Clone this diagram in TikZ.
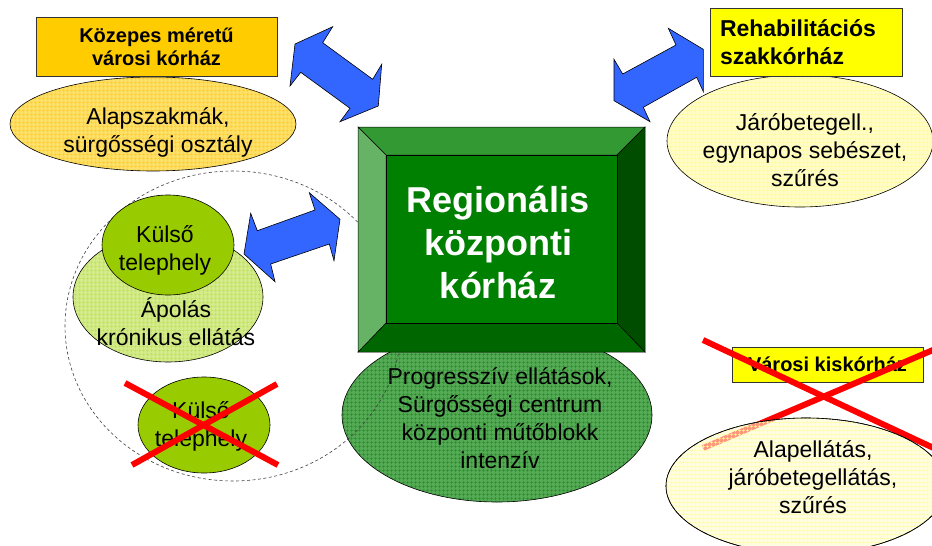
\documentclass[tikz,border=0pt]{standalone}
\usepackage{fontspec}
\setmainfont{Liberation Sans}
\usetikzlibrary{shapes.geometric,patterns.meta}

\definecolor{arrowblue}{HTML}{3366FF}
\definecolor{gold}{HTML}{FFCC00}
\definecolor{lemon}{HTML}{FFFF00}
\definecolor{xred}{HTML}{FF0000}
\definecolor{kulsogreen}{HTML}{99CC00}
\definecolor{faceg}{HTML}{008000}
\definecolor{bevtop}{HTML}{339933}
\definecolor{bevleft}{HTML}{66B366}
\definecolor{bevright}{HTML}{004D00}
\definecolor{bevbot}{HTML}{006600}
\definecolor{alapbase}{HTML}{FFE066}
\definecolor{alapgrid}{HTML}{FFCC33}
\definecolor{progbase}{HTML}{55AA55}
\definecolor{proggrid}{HTML}{2E8B2E}
\definecolor{apolbase}{HTML}{D4EB8A}
\definecolor{apolgrid}{HTML}{BFE060}

\tikzset{
  txt/.style={font=\fontsize{23}{28}\selectfont, align=center, inner sep=0pt},
  boldtxt/.style={font=\bfseries\fontsize{20}{23}\selectfont, align=center},
  labelbox/.style={rectangle, draw=black!80, line width=0.6pt, inner sep=0pt},
  blob/.style={ellipse, draw=black, line width=0.6pt, inner sep=0pt},
  gridfill/.style 2 args={preaction={fill=#1},
    preaction={pattern={Hatch[angle=0,distance=4pt,line width=0.7pt]}, pattern color=#2}},
  blockarrow/.style={fill=arrowblue, draw=black, line width=0.6pt, line join=miter},
  crossout/.style={draw=xred, line width=6pt},
  dashring/.style={draw=black!75, line width=0.6pt, dash pattern=on 3pt off 2.5pt},
  bevel/.style={draw=black, line width=0.5pt, line join=miter}
}

\begin{document}
\begin{tikzpicture}[x=1pt,y=-1pt]
\useasboundingbox (0,0) rectangle (932,546);
\clip (0,0) rectangle (932,546);
\fill[white] (0,0) rectangle (932,546);

% mid-size town hospital
\node[blob, gridfill={alapbase}{alapgrid}, minimum width=286pt, minimum height=94pt] (alap) at (153,124) {};
\node[txt] (alaptxt) at (158,132) {Alapszakmák,\\sürgősségi osztály};
\node[labelbox, fill=gold, minimum width=241pt, minimum height=59pt, boldtxt] (kozepes) at (156.5,46.5) {Közepes méretű\\városi kórház};

% rehabilitation hospital
\node[blob, gridfill={yellow!22}{yellow!45}, minimum width=266pt, minimum height=132pt] (jaro) at (800,141) {};
\node[txt] (jarotxt) at (805,150) {Járóbetegell.,\\egynapos sebészet,\\szűrés};
\node[labelbox, fill=lemon, minimum width=192pt, minimum height=68pt, text width=172pt, inner xsep=10pt, align=left, font=\bfseries\fontsize{23}{28}\selectfont] (rehab) at (806,42) {Rehabilitációs\\szakkórház};

% services of the regional centre
\node[blob, gridfill={progbase}{proggrid}, minimum width=310pt, minimum height=174pt] (progr) at (497,415) {};
\node[txt] (progrtxt) at (500,418) {\fontsize{23}{29}\selectfont Progresszív ellátások,\\Sürgősségi centrum\\központi műtőblokk\\intenzív};

% dashed ring around the attached units
\draw[dashring] (233,326) ellipse [x radius=168pt, y radius=155pt];

% bevelled regional centre block
\coordinate (o1) at (358,127); \coordinate (o2) at (645,127);
\coordinate (o3) at (645,352); \coordinate (o4) at (358,352);
\coordinate (i1) at (386,155); \coordinate (i2) at (617,155);
\coordinate (i3) at (617,323); \coordinate (i4) at (386,323);
\filldraw[bevel, fill=bevtop] (o1) -- (o2) -- (i2) -- (i1) -- cycle;
\filldraw[bevel, fill=bevright] (o2) -- (o3) -- (i3) -- (i2) -- cycle;
\filldraw[bevel, fill=bevbot] (o4) -- (o3) -- (i3) -- (i4) -- cycle;
\filldraw[bevel, fill=bevleft] (o1) -- (o4) -- (i4) -- (i1) -- cycle;
\node[rectangle, fill=faceg, draw=black, line width=0.5pt, minimum width=231pt, minimum height=168pt, inner sep=0pt] (face) at (501.5,239) {};
\node[font=\bfseries\fontsize{36}{43}\selectfont, text=white, align=center, inner sep=0pt] (regtxt) at (498,242) {Regionális\\központi\\kórház};

% nursing unit with outside site
\node[blob, gridfill={apolbase}{apolgrid}, minimum width=190pt, minimum height=130pt] (apolas) at (168,297) {};
\node[txt] (apolastxt) at (176,322) {Ápolás\\krónikus ellátás};
\node[blob, fill=kulsogreen, minimum width=132pt, minimum height=100pt] (kulso) at (168,245) {};
\node[txt] (kulsotxt) at (165,250) {Külső\\telephely};

% outside site that is dropped
\node[blob, fill=kulsogreen, minimum width=132pt, minimum height=96pt] (kulso2) at (204,425) {};
\node[txt] (kulso2txt) at (201,426) {Külső\\telephely};
\draw[crossout] (125,383) -- (278,465);
\draw[crossout] (132,465) -- (277,384);

% two-way links to the regional centre
\filldraw[blockarrow] (295,44) -- (332.7,26.7) -- (322.7,42.7) -- (372.7,79.3) -- (381.7,64.3)
  -- (378.3,106) -- (340,121.7) -- (350,108.3) -- (300.7,72.3) -- (290,86) -- cycle;
\filldraw[blockarrow] (668.3,28.3) -- (703.3,49.3) -- (703.3,91.7) -- (696.7,77.3) -- (643.3,107.3)
  -- (650,121.7) -- (614,100.7) -- (614,59.3) -- (622.7,74) -- (676,45) -- cycle;
\filldraw[blockarrow] (309.3,192.7) -- (340,219.3) -- (334,260.7) -- (329.3,244) -- (270.7,264)
  -- (275,281.7) -- (244,254) -- (250.7,213.3) -- (257.3,230.7) -- (315,210) -- cycle;

% small town hospital that is dropped
\node[labelbox, fill=lemon, minimum width=191pt, minimum height=35pt, boldtxt] (varosi) at (827.5,364.5) {Városi kiskórház};
\draw[crossout] (703,340) -- (940,451);
\draw[crossout] (703,448) -- (940,347);
\node[blob, fill=yellow!20, fill opacity=0.6, minimum width=280pt, minimum height=136pt] (alapell) at (806,486) {};
\fill[pattern={Hatch[angle=0,distance=4pt,line width=0.7pt]}, pattern color=yellow!40] (806,486) ellipse [x radius=140pt, y radius=68pt];
\draw[line width=0.6pt] (806,486) ellipse [x radius=140pt, y radius=68pt];
\node[txt] (alapelltxt) at (813,477) {Alapellátás,\\járóbetegellátás,\\szűrés};
\end{tikzpicture}
\end{document}
